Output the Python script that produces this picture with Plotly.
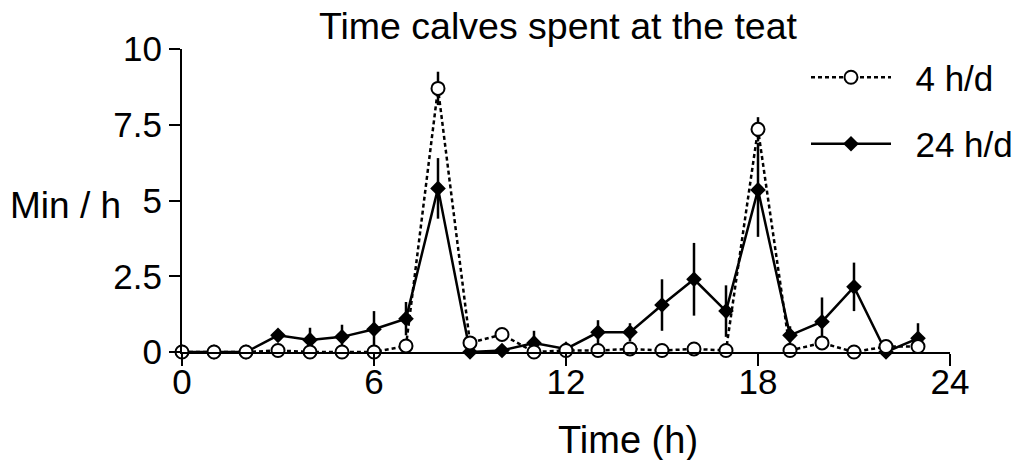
import plotly.graph_objects as go

hours = list(range(24))
x_ticks = [0, 6, 12, 18, 24]
y_ticks = [0, 2.5, 5, 7.5, 10]
y_tick_text = ["0", "2.5", "5", "7.5", "10"]

mean_4h = [0, 0, 0, 0.05, 0, 0, 0, 0.2, 8.7, 0.3, 0.58, 0, 0.05, 0.05, 0.1, 0.05,
           0.1, 0.05, 7.35, 0.05, 0.3, 0, 0.18, 0.18]
err_4h = [0, 0, 0, 0, 0, 0, 0, 0.1, 0.55, 0.1, 0.1, 0, 0, 0, 0, 0,
          0, 0, 0.4, 0, 0.1, 0, 0.05, 0.05]

mean_24h = [0, 0, 0, 0.55, 0.4, 0.5, 0.75, 1.1, 5.4, 0, 0.05, 0.3, 0.1, 0.65, 0.65, 1.55,
            2.4, 1.35, 5.35, 0.55, 1.0, 2.15, 0, 0.45]
err_24h = [0, 0, 0, 0.1, 0.4, 0.4, 0.6, 0.55, 1.0, 0, 0, 0.4, 0.1, 0.4, 0.3, 0.85,
           1.2, 0.85, 1.55, 0.3, 0.8, 0.8, 0, 0.5]

FONT = "Liberation Sans, Arial, Helvetica, sans-serif"
FS = 35

W, H = 1019, 460
L, R, T, B = 182, 69, 49, 108
PW, PH = W - L - R, H - T - B

def px_x(px):  # window pixel -> plot-area fraction
    return (px - L) / PW

def px_y(py):
    return (H - B - py) / PH

fig = go.Figure()
fig.add_trace(go.Scatter(
    x=hours, y=mean_24h, name="\u00a0\u00a024 h/d", mode="lines+markers",
    line=dict(color="black", width=2.5),
    marker=dict(symbol="diamond", size=12, color="black"),
    error_y=dict(type="data", array=err_24h, color="black", thickness=2.5, width=0),
    cliponaxis=False, legendrank=2, legendgroup="b",
))
fig.add_trace(go.Scatter(
    x=hours, y=mean_4h, name="\u00a0\u00a04 h/d", mode="lines+markers",
    line=dict(color="black", width=2.5, dash="4px,3px"),
    marker=dict(symbol="circle", size=13, color="white", line=dict(color="black", width=2)),
    error_y=dict(type="data", array=err_4h, color="black", thickness=2.5, width=0),
    cliponaxis=False, legendrank=1, legendgroup="a",
))

fig.update_layout(
    width=W, height=H,
    margin=dict(l=L, r=R, t=T, b=B, autoexpand=False),
    paper_bgcolor="white", plot_bgcolor="white",
    font=dict(family=FONT, size=FS, color="black"),
    title=dict(text="Time calves spent at the teat", x=558 / W, xanchor="center",
               y=1 - 26 / H, yanchor="middle", font=dict(size=37.5)),
    showlegend=True,
    legend=dict(x=px_x(806), y=px_y(48), xanchor="left", yanchor="top",
                font=dict(size=35), tracegroupgap=18, itemwidth=80,
                bgcolor="rgba(0,0,0,0)"),
    xaxis=dict(range=[0, 24], tickvals=x_ticks, ticktext=[str(v) for v in x_ticks],
               ticks="outside", ticklen=12, tickwidth=2, tickcolor="black",
               showline=True, linewidth=2, linecolor="black", showgrid=False,
               zeroline=False, tickfont=dict(size=FS), ticklabelstandoff=-14),
    yaxis=dict(range=[0, 10], tickvals=y_ticks, ticktext=y_tick_text,
               ticks="outside", ticklen=11, tickwidth=2, tickcolor="black",
               showline=True, linewidth=2, linecolor="black", showgrid=False,
               zeroline=False, tickfont=dict(size=FS)),
    annotations=[
        dict(text="Min / h", xref="paper", yref="paper", x=px_x(65), y=px_y(205),
             xanchor="center", yanchor="middle", showarrow=False, font=dict(size=37)),
        dict(text="Time (h)", xref="paper", yref="paper", x=px_x(628), y=px_y(440),
             xanchor="center", yanchor="middle", showarrow=False, font=dict(size=38)),
    ],
)

fig.write_html(
    "out.html",
    config={"displayModeBar": False},
    post_script="document.body.style.margin='0px';document.body.style.padding='0px';"
                "document.documentElement.style.overflow='hidden';",
)
